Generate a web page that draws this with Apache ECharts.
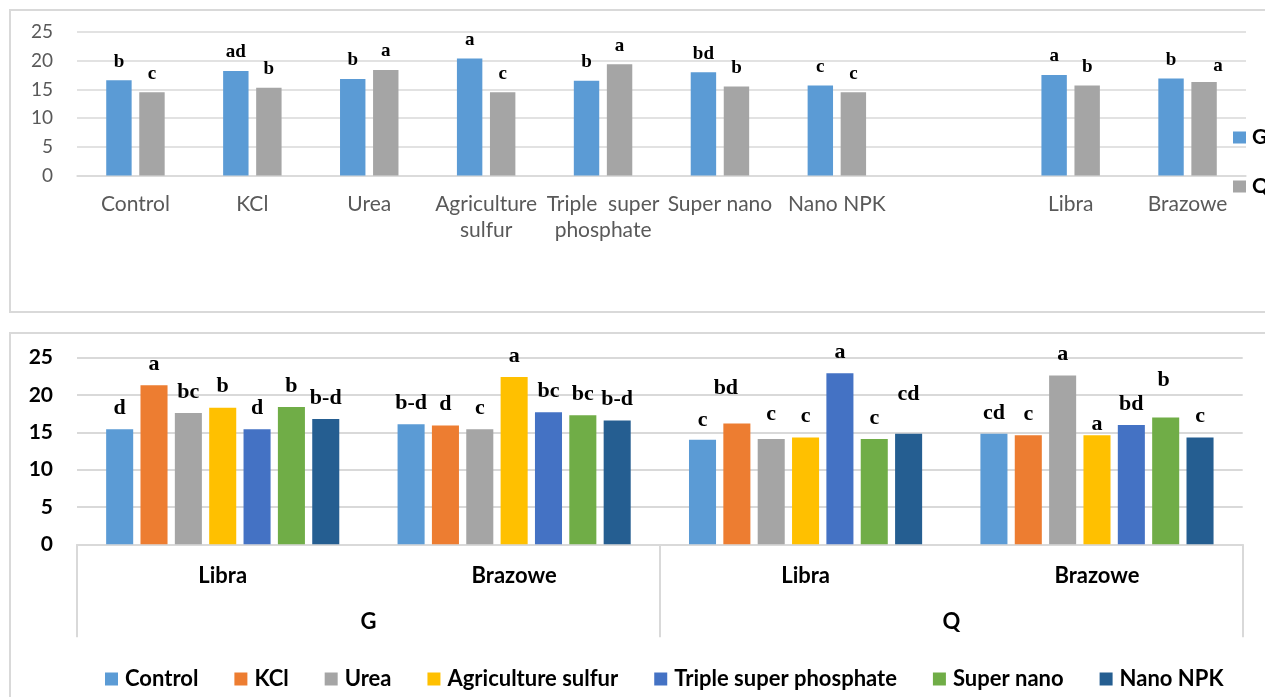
<!DOCTYPE html>
<html>
<head>
<meta charset="utf-8">
<script src="https://cdn.jsdelivr.net/npm/echarts@6/dist/echarts.min.js"></script>
<style>
  html, body { margin: 0; padding: 0; background: #fff; }
  #chart { width: 1265px; height: 697px; }
</style>
</head>
<body>
<div id="chart"></div>
<script>
// ---- Upper panel: G and Q per treatment and per cultivar ----
const topCategories = ['Control', 'KCl', 'Urea', 'Agriculture\nsulfur', 'Triple  super\nphosphate', 'Super nano', 'Nano NPK', '', 'Libra', 'Brazowe'];
const topG = [16.6, 18.2, 16.8, 20.4, 16.5, 18.0, 15.7, null, 17.5, 16.9];
const topQ = [14.5, 15.3, 18.4, 14.5, 19.4, 15.5, 14.5, null, 15.7, 16.3];
const topGLetters = ['b', 'ad', 'b', 'a', 'b', 'bd', 'c', '', 'a', 'b'];
const topQLetters = ['c', 'b', 'a', 'c', 'a', 'b', 'c', '', 'b', 'a'];

// ---- Lower panel: treatment x cultivar within each trait ----
const cultivars = ['Libra', 'Brazowe', 'Libra', 'Brazowe'];
const traits = ['G', 'Q'];
const treatments = ['Control', 'KCl', 'Urea', 'Agriculture sulfur', 'Triple super phosphate', 'Super nano', 'Nano NPK'];
const controlVals   = [15.4, 16.1, 14.0, 14.8];
const kclVals       = [21.3, 15.9, 16.2, 14.6];
const ureaVals      = [17.6, 15.4, 14.1, 22.6];
const sulfurVals    = [18.3, 22.4, 14.3, 14.6];
const tspVals       = [15.4, 17.7, 22.9, 16.0];
const superNanoVals = [18.4, 17.3, 14.1, 17.0];
const nanoNpkVals   = [16.8, 16.6, 14.8, 14.3];
const controlLetters   = ['d', 'b-d', 'c', 'cd'];
const kclLetters       = ['a', 'd', 'bd', 'c'];
const ureaLetters      = ['bc', 'c', 'c', 'a'];
const sulfurLetters    = ['b', 'a', 'c', 'a'];
const tspLetters       = ['d', 'bc', 'a', 'bd'];
const superNanoLetters = ['b', 'bc', 'c', 'b'];
const nanoNpkLetters   = ['b-d', 'b-d', 'cd', 'c'];

const lowerValues = [controlVals, kclVals, ureaVals, sulfurVals, tspVals, superNanoVals, nanoNpkVals];
const lowerLetters = [controlLetters, kclLetters, ureaLetters, sulfurLetters, tspLetters, superNanoLetters, nanoNpkLetters];
const lowerColors = ['#5B9BD5', '#ED7D31', '#A5A5A5', '#FFC000', '#4472C4', '#70AD47', '#255E91'];

// letters that sit slightly apart from their bar: [series, dataIndex, dx, dy]
const lowerLabelShift = [[1, 2, -11, -14], [2, 2, 0, -4], [6, 2, 0, -19], [5, 3, -2, -16], [3, 3, 0, 10], [0, 2, 0, 2]];
const upperLabelShift = [[1, 9, 14, 3]];

const grey = '#d9d9d9';
const sans = 'Lato';
const serif = 'Liberation Serif';

function withLetters(values, letters, seriesIdx, shifts) {
  return values.map((v, i) => {
    const item = { value: v, letter: letters[i] };
    shifts.forEach(s => {
      if (s[0] === seriesIdx && s[1] === i) item.label = { offset: [s[2], s[3]] };
    });
    return item;
  });
}

const letterLabel = (size, gap) => ({
  show: true,
  position: 'top',
  distance: gap,
  fontFamily: serif,
  fontWeight: 'bold',
  fontSize: size,
  color: '#000',
  formatter: p => p.data.letter || ''
});

const series = [
  {
    name: 'G', type: 'bar', xAxisIndex: 0, yAxisIndex: 0,
    data: withLetters(topG, topGLetters, 0, upperLabelShift),
    itemStyle: { color: '#5B9BD5' },
    barGap: '30%', barCategoryGap: '50%',
    label: letterLabel(19, 9)
  },
  {
    name: 'Q', type: 'bar', xAxisIndex: 0, yAxisIndex: 0,
    data: withLetters(topQ, topQLetters, 1, upperLabelShift),
    itemStyle: { color: '#A5A5A5' },
    barGap: '30%', barCategoryGap: '50%',
    label: letterLabel(19, 9)
  }
];
treatments.forEach((t, k) => {
  series.push({
    name: t, type: 'bar', xAxisIndex: 1, yAxisIndex: 1,
    data: withLetters(lowerValues[k], lowerLetters[k], k, lowerLabelShift),
    itemStyle: { color: lowerColors[k] },
    barGap: '27%', barCategoryGap: '20%',
    label: letterLabel(22, 10)
  });
});

const option = {
  animation: false,
  backgroundColor: '#fff',
  graphic: [
    { type: 'rect', shape: { x: 10, y: 10, width: 1300, height: 302 }, style: { fill: 'none', stroke: grey, lineWidth: 2 }, z: -1 },
    { type: 'rect', shape: { x: 10, y: 333, width: 1300, height: 420 }, style: { fill: 'none', stroke: grey, lineWidth: 2 }, z: -1 }
  ],
  grid: [
    { left: 77, top: 32, width: 1169, height: 143.5 },
    { left: 77, top: 357.7, width: 1165.7, height: 186.6 }
  ],
  legend: [
    {
      data: ['G', 'Q'],
      orient: 'vertical',
      left: 1233, top: 127, padding: 0,
      itemWidth: 13, itemHeight: 12, itemGap: 28,
      icon: 'rect',
      textStyle: { fontFamily: sans, fontWeight: 'bold', fontSize: 21, color: '#000', padding: [0, 0, 0, 1] }
    },
    {
      data: treatments,
      left: 105, top: 668, padding: 0,
      itemWidth: 13, itemHeight: 13, itemGap: 36,
      icon: 'rect',
      textStyle: { fontFamily: sans, fontWeight: 'bold', fontSize: 22, color: '#000', padding: [0, 0, 0, 2] }
    }
  ],
  xAxis: [
    {
      gridIndex: 0, type: 'category', data: topCategories,
      axisLine: { show: true, lineStyle: { color: grey, width: 1.5 } },
      axisTick: { show: false },
      axisLabel: { interval: 0, margin: 16, fontFamily: sans, fontSize: 21, lineHeight: 26, color: '#595959' }
    },
    {
      gridIndex: 1, type: 'category', data: cultivars, position: 'bottom',
      axisLine: { show: true, lineStyle: { color: grey, width: 2 } },
      axisTick: { show: false },
      axisLabel: { interval: 0, margin: 21, fontFamily: sans, fontWeight: 'bold', fontSize: 22, color: '#000' }
    },
    {
      gridIndex: 1, type: 'category', data: traits, position: 'bottom', offset: 0,
      axisLine: { show: false },
      axisTick: { show: true, length: 93, lineStyle: { color: grey, width: 2 } },
      axisLabel: { interval: 0, margin: 67, fontFamily: sans, fontWeight: 'bold', fontSize: 22, color: '#000' }
    }
  ],
  yAxis: [
    {
      gridIndex: 0, type: 'value', min: 0, max: 25, interval: 5,
      axisLine: { show: false }, axisTick: { show: false },
      splitLine: { lineStyle: { color: grey, width: 1.5 } },
      axisLabel: { margin: 24, fontFamily: sans, fontSize: 19, color: '#595959' }
    },
    {
      gridIndex: 1, type: 'value', min: 0, max: 25, interval: 5,
      axisLine: { show: false }, axisTick: { show: false },
      splitLine: { lineStyle: { color: grey, width: 2 } },
      axisLabel: { margin: 24, fontFamily: sans, fontWeight: 'bold', fontSize: 21, color: '#000' }
    }
  ],
  series: series
};

const chart = echarts.init(document.getElementById('chart'), null, { renderer: 'canvas' });
chart.setOption(option);
</script>
</body>
</html>
